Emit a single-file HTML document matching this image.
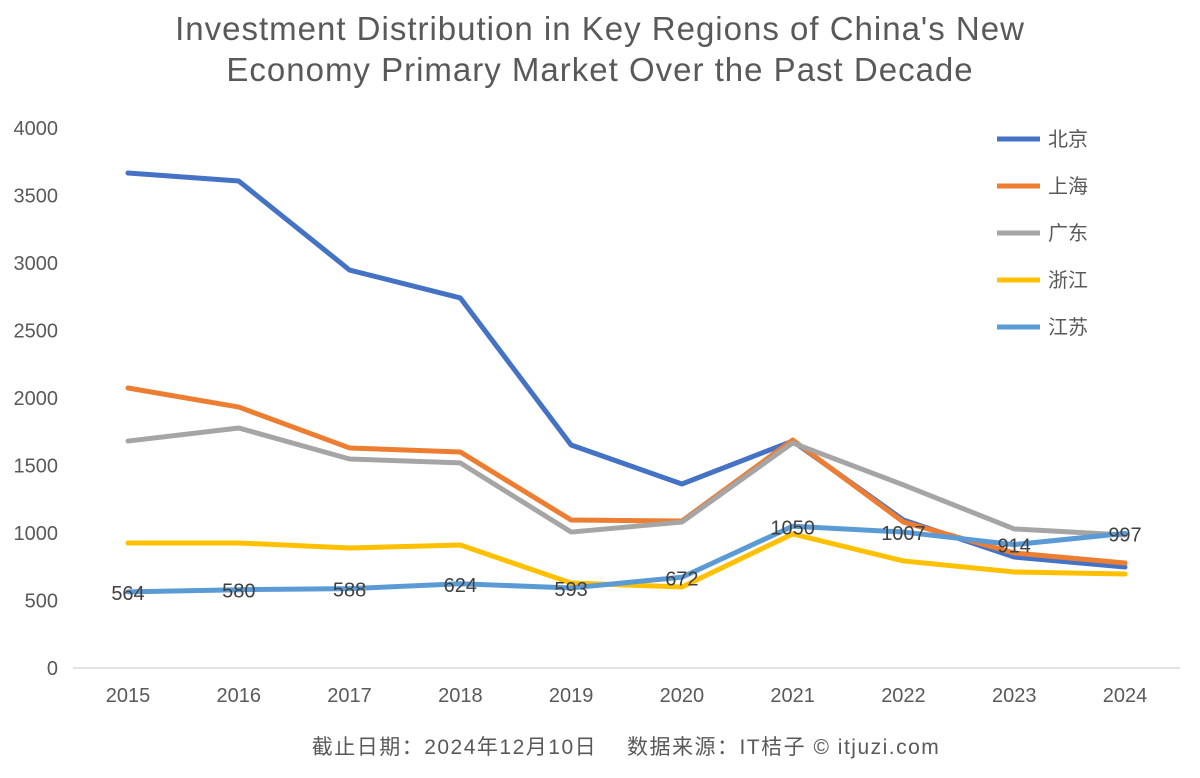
<!DOCTYPE html>
<html><head><meta charset="utf-8"><style>
body{margin:0;background:#fff;width:1200px;height:773px;overflow:hidden}
svg text{font-family:"Liberation Sans","Noto Sans CJK SC",sans-serif}
</style></head><body>
<svg id="chart" width="1200" height="773">
<text x="600" y="40" text-anchor="middle" font-size="33" letter-spacing="1" fill="#595959">Investment Distribution in Key Regions of China's New</text>
<text x="600" y="81" text-anchor="middle" font-size="33" letter-spacing="1" fill="#595959">Economy Primary Market Over the Past Decade</text>
<g id="axes"></g><g id="series"></g><g id="legend"></g>
<text x="626" y="754" text-anchor="middle" font-size="21" letter-spacing="1.5" fill="#595959">截止日期：2024年12月10日　 数据来源：IT桔子 © itjuzi.com</text>
</svg>
<script>
const years=["2015","2016","2017","2018","2019","2020","2021","2022","2023","2024"];
const yTicks=[0,500,1000,1500,2000,2500,3000,3500,4000];
const beijing=[3667,3607,2948,2741,1652,1363,1681,1096,822,748];
const shanghai=[2074,1933,1630,1600,1096,1089,1689,1081,852,778];
const guangdong=[1681,1778,1548,1519,1007,1081,1667,1356,1030,985];
const zhejiang=[926,926,889,911,630,600,993,793,711,696];
const jiangsu=[564,580,588,624,593,672,1050,1007,914,997];
const seriesNames=["北京","上海","广东","浙江","江苏"];
const seriesColors=["#4472c4","#ed7d31","#a5a5a5","#ffc000","#5b9bd5"];
const seriesData=[beijing,shanghai,guangdong,zhejiang,jiangsu];
const NS="http://www.w3.org/2000/svg";
const x=i=>128+i*(1125-128)/9;
const y=v=>668-v*540/4000;
function mk(tag,attrs,parent,text){const e=document.createElementNS(NS,tag);for(const k in attrs)e.setAttribute(k,attrs[k]);if(text!==undefined)e.textContent=text;parent.appendChild(e);return e;}
const axes=document.getElementById('axes');
const base=mk('line',{x1:73,x2:1180,y1:y(0),y2:y(0),stroke:'#d9d9d9','stroke-width':1.5},axes);


yTicks.forEach(t=>{const e=mk('text',{x:58,y:y(t)+7,'text-anchor':'end','font-size':20,fill:'#595959'},axes,t);

});
years.forEach((yr,i)=>{const e=mk('text',{x:x(i),y:702,'text-anchor':'middle','font-size':20,fill:'#595959'},axes,yr);

});
const sg=document.getElementById('series');
seriesData.forEach((d,s)=>{const p=mk('polyline',{points:d.map((v,i)=>x(i)+','+y(v)).join(' '),fill:'none',stroke:seriesColors[s],'stroke-width':5,'stroke-linejoin':'round','stroke-linecap':'round'},sg);

});
jiangsu.forEach((v,i)=>{const t=mk('text',{x:x(i),y:y(v)+8,'text-anchor':'middle','font-size':20,fill:'#404040'},sg,v);

});
const lg=document.getElementById('legend');
seriesNames.forEach((n,s)=>{const yy=139+s*47;
const l=mk('line',{x1:997,x2:1040,y1:yy,y2:yy,stroke:seriesColors[s],'stroke-width':5},lg);


const t=mk('text',{x:1048,y:yy+7,'font-size':20,fill:'#595959'},lg,n);

});
</script>
</body></html>
